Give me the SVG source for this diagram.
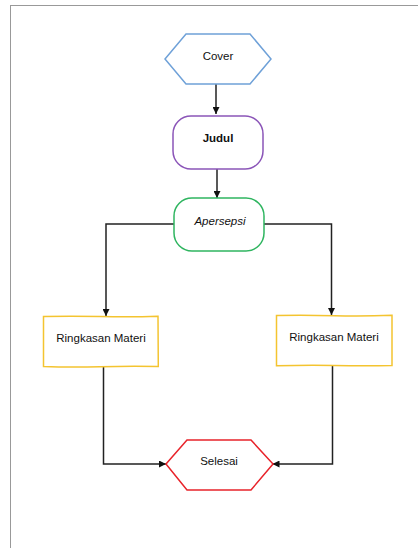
<svg xmlns="http://www.w3.org/2000/svg" width="418" height="548" viewBox="0 0 418 548">
<style>
.t{font-family:"Liberation Sans","DejaVu Sans",sans-serif;font-size:11.5px;fill:#111;text-anchor:middle}
.n{fill:#fff;stroke-width:1.5}
.c{fill:none;stroke:#222;stroke-width:1.5}
</style>
<defs>
<marker id="ah" viewBox="0 0 10 10" refX="10" refY="5" markerWidth="7" markerHeight="7" markerUnits="userSpaceOnUse" orient="auto">
<path d="M0,0 L10,5 L0,10 Z" fill="#111"/>
</marker>
</defs>
<rect x="0" y="0" width="418" height="548" fill="#fff"/>
<rect x="10.5" y="5.5" width="420" height="560" fill="none" stroke="#999" stroke-width="1"/>
<g id="connectors">
<path class="c" d="M216,84 V114" marker-end="url(#ah)"/>
<path class="c" d="M217,169 V198" marker-end="url(#ah)"/>
<path class="c" d="M174,224 H106 V316" marker-end="url(#ah)"/>
<path class="c" d="M264,224 H331.5 V315" marker-end="url(#ah)"/>
<path class="c" d="M103.5,367 V464 H166" marker-end="url(#ah)"/>
<path class="c" d="M332.5,366 V464 H272.5" marker-end="url(#ah)"/>
</g>
<g id="cover">
<polygon class="n" stroke="#6fa1d8" points="165,59 186,34 250,34 271,59 250,84 186,84"/>
<text class="t" x="218" y="60">Cover</text>
</g>
<g id="judul">
<rect class="n" stroke="#8b55b8" x="173" y="116" width="90" height="53" rx="18" ry="18"/>
<text class="t" x="218" y="142" font-weight="bold">Judul</text>
</g>
<g id="apersepsi">
<rect class="n" stroke="#2fb560" x="174" y="198" width="90" height="53" rx="18" ry="18"/>
<text class="t" x="220" y="225" font-style="italic">Apersepsi</text>
</g>
<g id="ringkasan1">
<path class="n" stroke="#f4c430" d="M43.5,316.5 Q70,315.8 100,316.5 T158,316.3 L158.3,366.5 Q130,366 100,366.7 T43.5,366.5 Z"/>
<text class="t" x="101" y="342">Ringkasan Materi</text>
</g>
<g id="ringkasan2">
<path class="n" stroke="#f4c430" d="M276.5,315.5 Q305,315 334,315.7 T392,315.3 L392,365.5 Q362,366 334,365.4 T276.5,365.8 Z"/>
<text class="t" x="334" y="341">Ringkasan Materi</text>
</g>
<g id="selesai">
<polygon class="n" stroke="#e8232a" points="166,464 187,440 251,440 273,464 251,490 187,490"/>
<text class="t" x="219" y="465">Selesai</text>
</g>
</svg>
